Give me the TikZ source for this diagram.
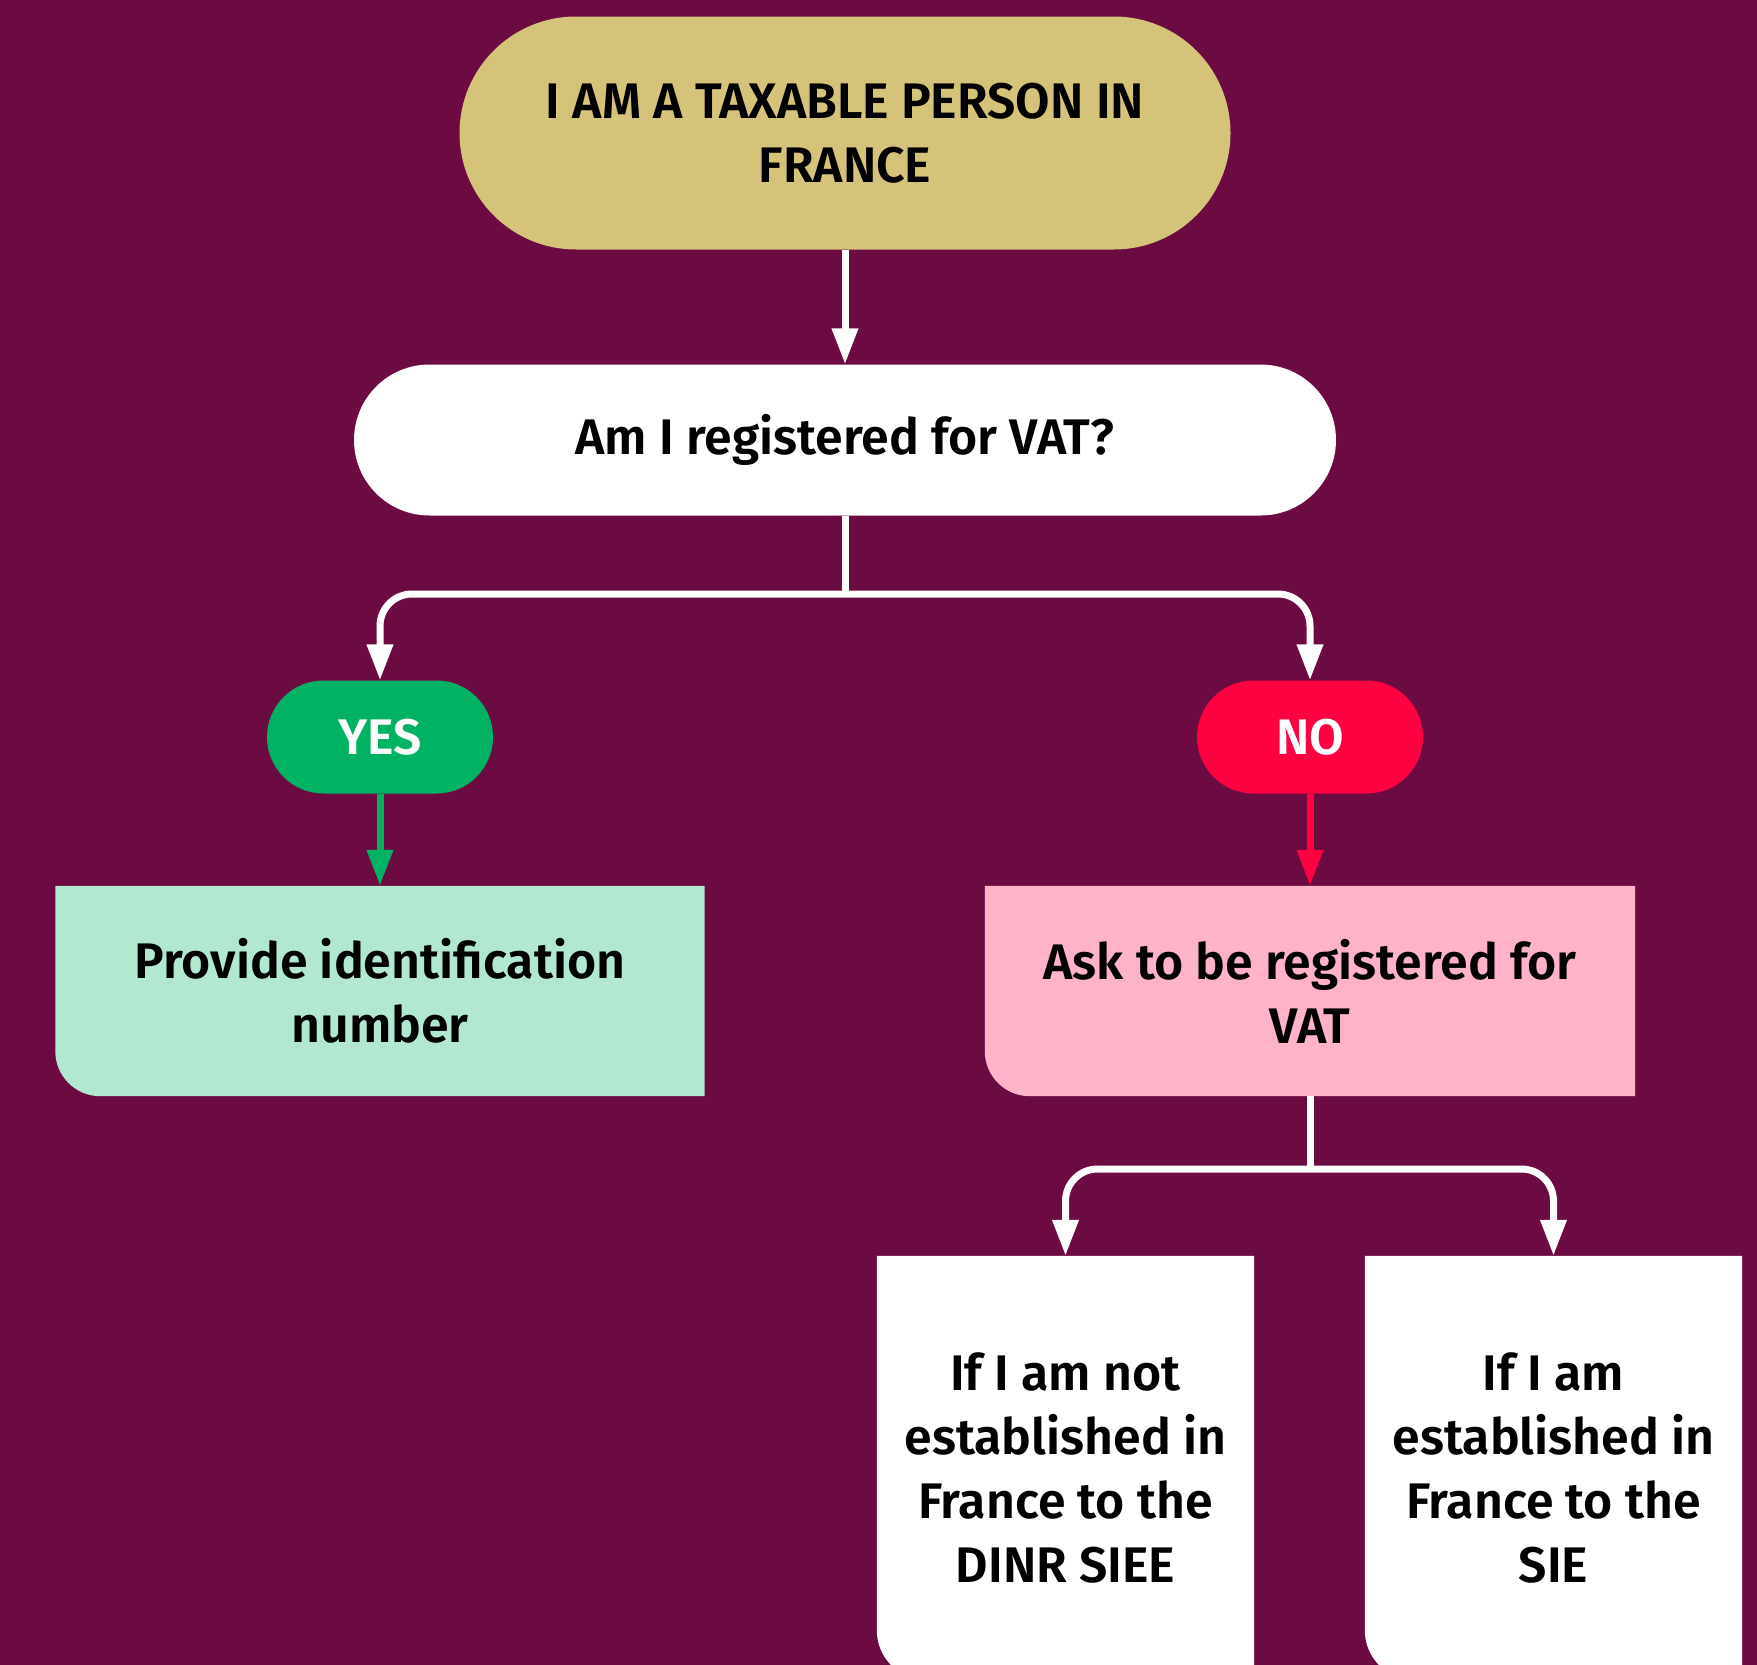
\documentclass[tikz,border=0pt]{standalone}
\usepackage{fontspec}
\setmainfont{Fira Sans}[BoldFont={Fira Sans SemiBold}]
\usetikzlibrary{arrows.meta,shapes.misc,positioning}
\pgfdeclarelayer{bg}
\pgfsetlayers{bg,main}
\definecolor{plum}{HTML}{6B0B42}
\definecolor{gold}{HTML}{D6C37A}
\definecolor{okgreen}{HTML}{00B262}
\definecolor{mint}{HTML}{B2E8D0}
\definecolor{stopred}{HTML}{FF0040}
\definecolor{blush}{HTML}{FFB3C8}
\tikzset{
  txt/.style={font=\bfseries\fontsize{50}{64}\selectfont, align=center, text=black, inner sep=0pt},
  pill/.style={rounded rectangle, inner sep=0pt, txt},
  boxtxt/.style={txt, minimum width=#1, minimum height=210pt},
  wline/.style={draw=white, line width=7pt},
  conn/.style={wline, -{Triangle[length=36pt,width=25pt]}},
}
\begin{document}
\begin{tikzpicture}[x=1pt,y=-1pt]
\useasboundingbox (0,0) rectangle (1757,1665);
\begin{pgfonlayer}{bg}
  \fill[plum] (0,0) rectangle (1757,1665);
\end{pgfonlayer}

% start and question pills
\node[pill, fill=gold, minimum width=771pt, minimum height=233pt] (top) at (845,133)
  {I AM A TAXABLE PERSON IN\\FRANCE};
\node[pill, fill=white, minimum width=982pt, minimum height=151pt] (q) at (845,440)
  {Am I registered for VAT?};

% answers
\node[pill, fill=okgreen, text=white, minimum width=226pt, minimum height=113pt] (yes) at (380,737) {YES};
\node[pill, fill=stopred, text=white, minimum width=226pt, minimum height=113pt] (no) at (1310,737) {NO};

% result boxes (rounded bottom-left corner)
\node[boxtxt=649pt] (prov) at (380,991) {Provide identification\\number};
\node[boxtxt=650pt] (ask) at (1310,991) {Ask to be registered for\\VAT};
\begin{pgfonlayer}{bg}
  \fill[mint] (prov.north west) -- (prov.north east) -- (prov.south east)
    -- ([xshift=45pt]prov.south west) arc[start angle=270,end angle=180,radius=45pt] -- cycle;
  \fill[blush] (ask.north west) -- (ask.north east) -- (ask.south east)
    -- ([xshift=45pt]ask.south west) arc[start angle=270,end angle=180,radius=45pt] -- cycle;
\end{pgfonlayer}

% office boxes
\node[txt, minimum width=377pt, minimum height=424pt] (siee) at (1065.5,1468)
  {If I am not\\established in\\France to the\\DINR SIEE};
\node[txt, minimum width=377pt, minimum height=424pt] (sie) at (1553.5,1468)
  {If I am\\established in\\France to the\\SIE};
\begin{pgfonlayer}{bg}
  \fill[white] (siee.north west) -- (siee.north east) -- (siee.south east)
    -- ([xshift=50pt]siee.south west) arc[start angle=270,end angle=180,radius=50pt] -- cycle;
  \fill[white] (sie.north west) -- (sie.north east) -- (sie.south east)
    -- ([xshift=50pt]sie.south west) arc[start angle=270,end angle=180,radius=50pt] -- cycle;
\end{pgfonlayer}

% connectors
\coordinate (j1) at (845,594);
\coordinate (j2) at (1310,1169);
\draw[conn] (top.south) -- (q.north);
\draw[wline] (q.south) -- (j1);
\draw[conn, rounded corners=32pt] (j1) -| (yes.north);
\draw[conn, rounded corners=32pt] (j1) -| (no.north);
\draw[conn, draw=okgreen] (yes.south) -- (prov.north);
\draw[conn, draw=stopred] (no.south) -- (ask.north);
\draw[wline] (ask.south) -- (j2);
\draw[conn, rounded corners=32pt] (j2) -| (siee.north);
\draw[conn, rounded corners=32pt] (j2) -| (sie.north);
\end{tikzpicture}
\end{document}
